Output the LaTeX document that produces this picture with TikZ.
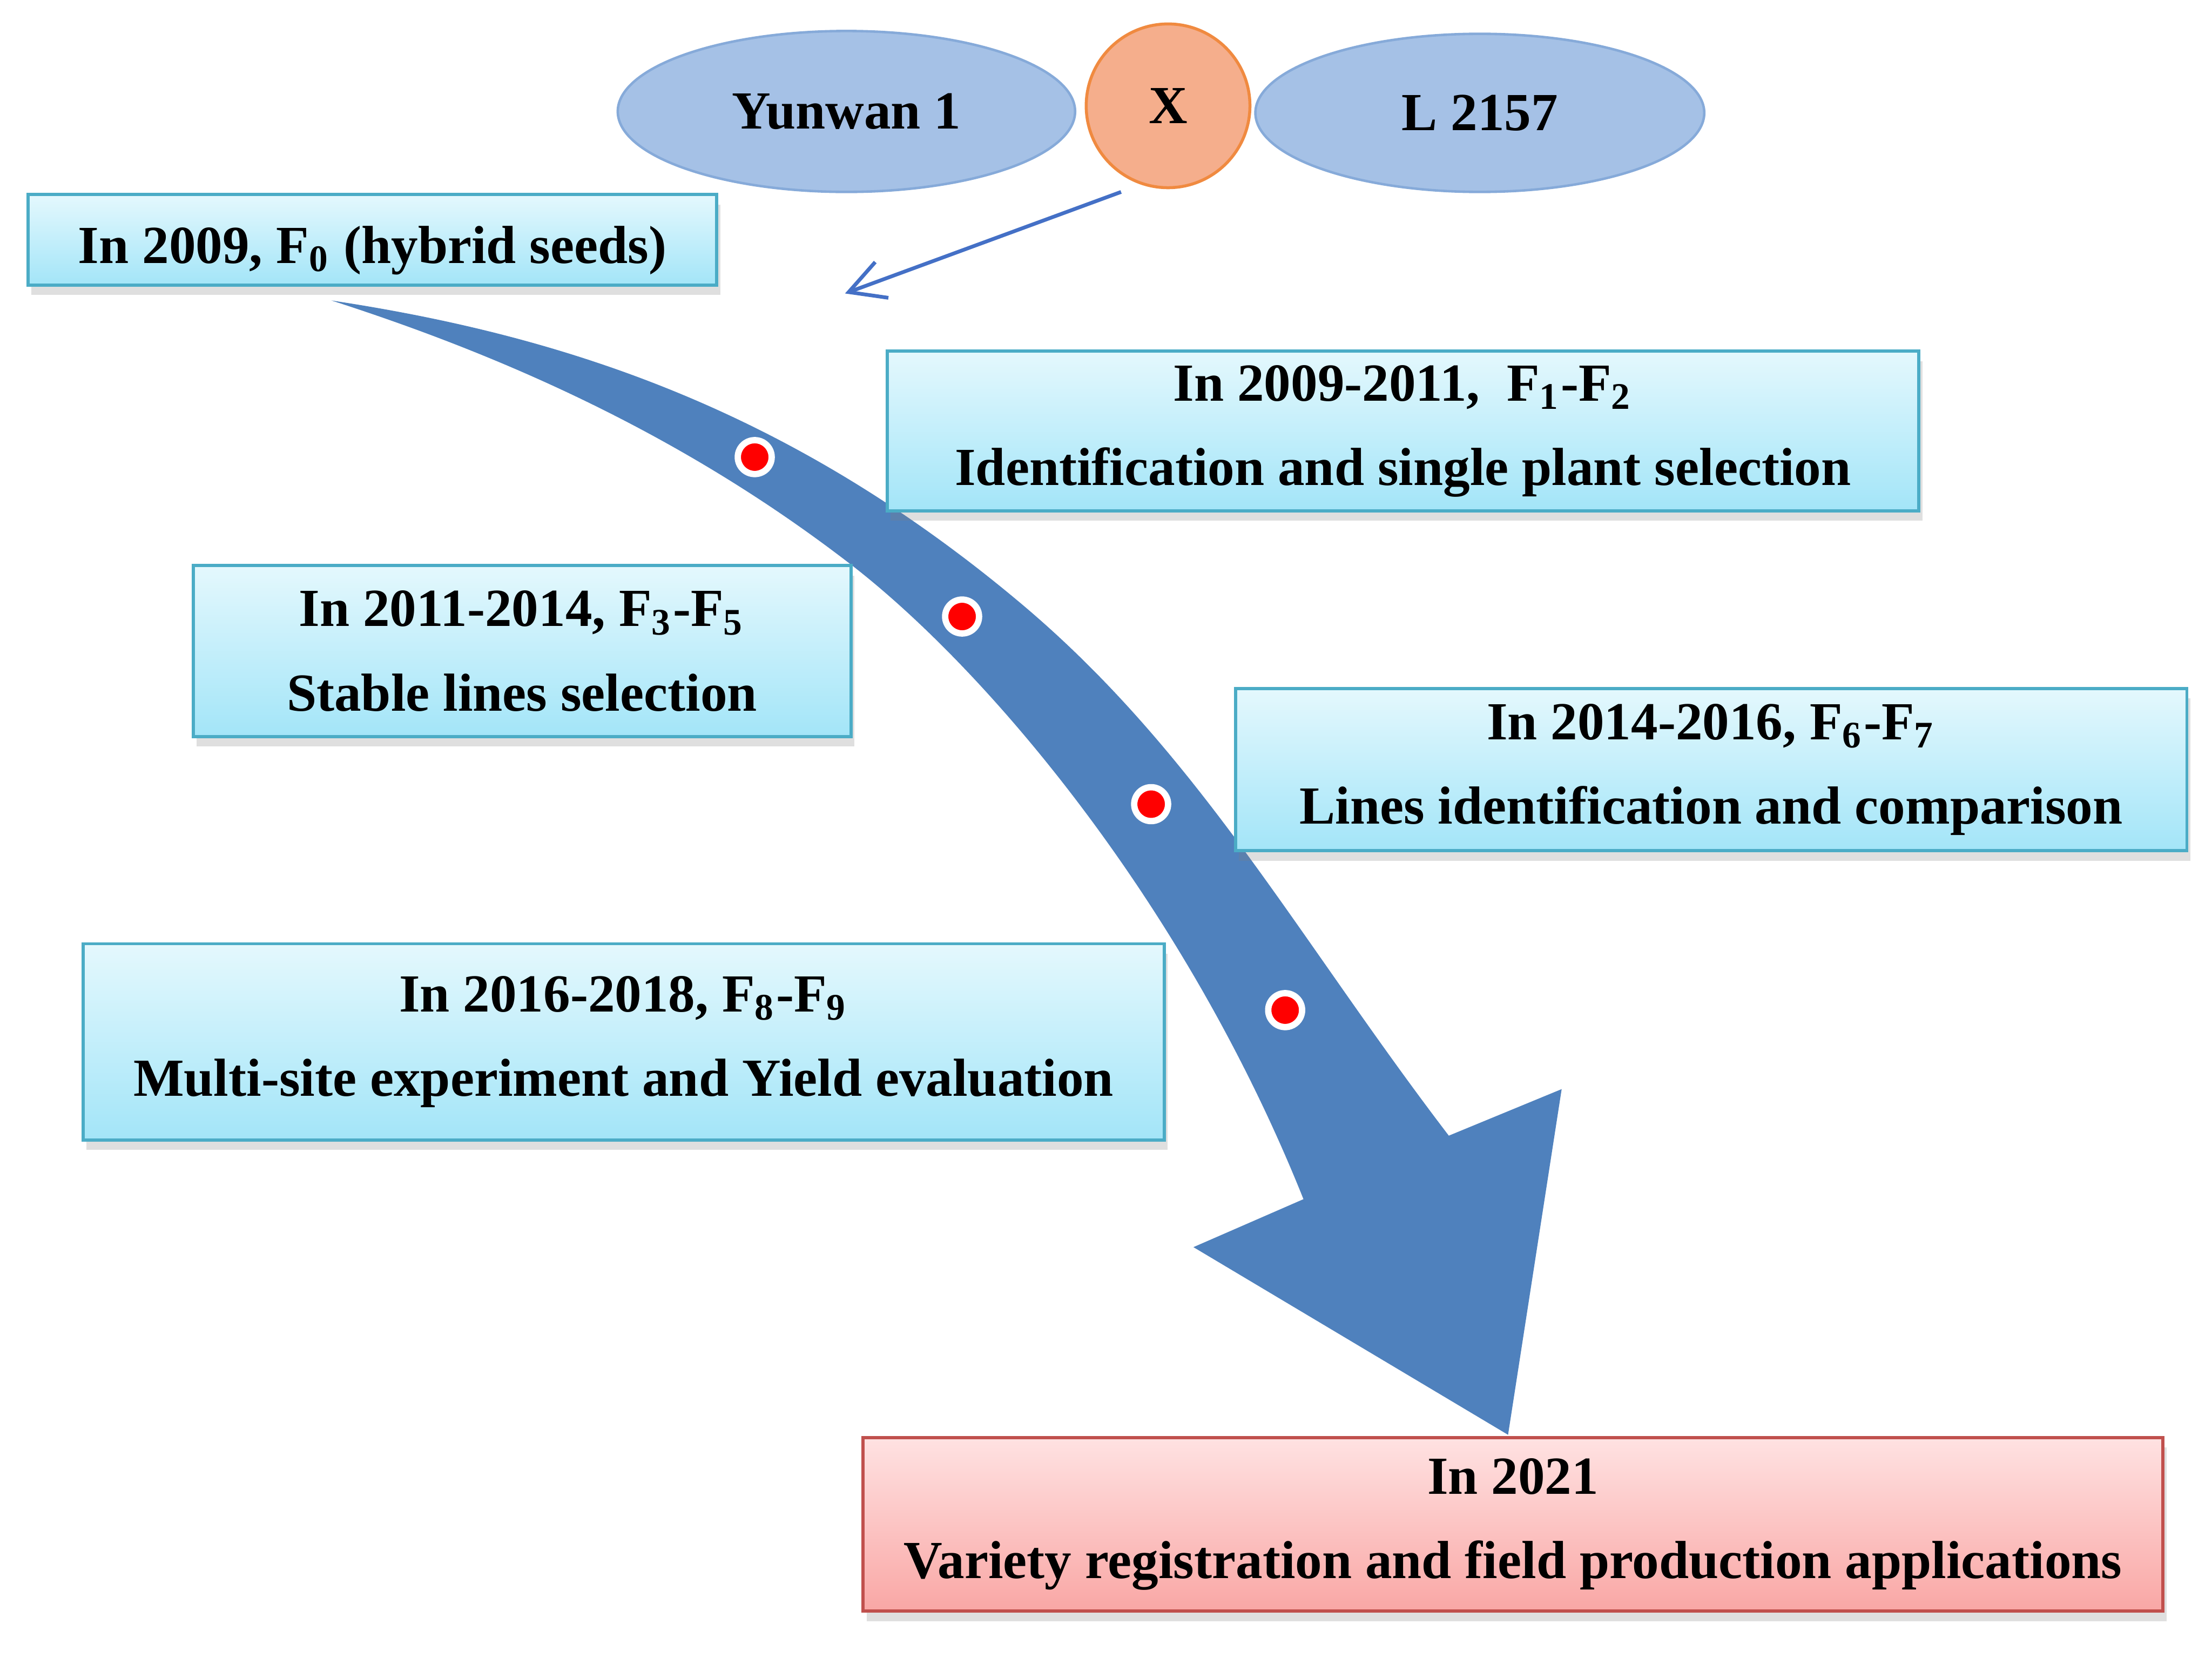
\documentclass[tikz,border=0pt]{standalone}
\usepackage{fontspec}
\setmainfont{Liberation Serif}
\usetikzlibrary{shapes.geometric,shadows,arrows.meta}
\definecolor{ellfill}{HTML}{A5C1E6}
\definecolor{elldraw}{HTML}{86AAD9}
\definecolor{xfill}{HTML}{F5AE8C}
\definecolor{xdraw}{HTML}{F08A40}
\definecolor{boxtop}{HTML}{E4F8FD}
\definecolor{boxbot}{HTML}{A3E5F8}
\definecolor{boxline}{HTML}{4BACC6}
\definecolor{pinktop}{HTML}{FFE2E2}
\definecolor{pinkbot}{HTML}{F9A7A5}
\definecolor{pinkline}{HTML}{C0504D}
\definecolor{bigarrow}{HTML}{4F81BD}
\definecolor{thinarrow}{HTML}{4470C6}
\begin{document}
\begin{tikzpicture}[x=0.01cm,y=-0.01cm,
  txt/.style={font=\fontsize{10.8pt}{17pt}\selectfont\bfseries, align=center, text=black},
  parentell/.style={ellipse, draw=elldraw, line width=0.5pt, fill=ellfill, inner sep=0pt, txt},
  stagebox/.style={rectangle, draw=boxline, line width=0.65pt, top color=boxtop, bottom color=boxbot, inner sep=0pt, txt,
     drop shadow={shadow xshift=0.25mm, shadow yshift=-0.7mm, opacity=0.25}},
  finalbox/.style={stagebox, draw=pinkline, top color=pinktop, bottom color=pinkbot},
  reddot/.style={circle, fill=red, draw=white, line width=0.45mm, minimum size=2.4mm, inner sep=0pt}
]
\useasboundingbox (0,0) rectangle (1568,1175);
\fill[white] (0,0) rectangle (1568,1175);

% parents
\node[parentell, minimum width=32.4mm, minimum height=11.4mm] (p1) at (600,79) {Yunwan 1};
\node[circle, draw=xdraw, fill=xfill, line width=0.6pt, minimum size=11.6mm, inner sep=0pt, txt] (X) at (828,75) {X};
\node[parentell, minimum width=31.8mm, minimum height=11.2mm] (p2) at (1049,80) {L 2157};

% big curved arrow
\fill[bigarrow] (235,213) .. controls (400,238) and (560,290) .. (724,428)
  .. controls (850,534) and (920,665) .. (1027,805)
  -- (1107,772) -- (1069,1017) -- (846,884) -- (924,850)
  .. controls (840,640) and (700,475) .. (603,400)
  .. controls (480,305) and (350,250) .. (235,213) -- cycle;

% dots
\node[reddot] (d1) at (535,324) {};
\node[reddot] (d2) at (682,437) {};
\node[reddot] (d3) at (816,570) {};
\node[reddot] (d4) at (911,716) {};

% stage boxes
\node[stagebox, minimum width=48.8mm, minimum height=6.4mm] (s0) at (264,170)
  {\raisebox{-1.65mm}[0pt][0pt]{In 2009, F\textsubscript{0} (hybrid seeds)}};
\node[stagebox, minimum width=73.1mm, minimum height=11.3mm] (s1) at (994.5,305.5)
  {In 2009-2011,\ \ F\textsubscript{1}-F\textsubscript{2}\\Identification and single plant selection};
\node[stagebox, minimum width=46.6mm, minimum height=12.1mm] (s2) at (370,461.5)
  {In 2011-2014, F\textsubscript{3}-F\textsubscript{5}\\Stable lines selection};
\node[stagebox, minimum width=67.4mm, minimum height=11.5mm] (s3) at (1213,545.5)
  {In 2014-2016, F\textsubscript{6}-F\textsubscript{7}\\Lines identification and comparison};
\node[stagebox, minimum width=76.6mm, minimum height=13.9mm] (s4) at (442,738.5)
  {In 2016-2018, F\textsubscript{8}-F\textsubscript{9}\\Multi-site experiment and Yield evaluation};
\node[finalbox, minimum width=92.1mm, minimum height=12.3mm] (s5) at (1072.5,1080.5)
  {In 2021\\Variety registration and field production applications};

% thin arrow
\coordinate (f0tip) at (599,208);
\draw[thinarrow, line width=0.75pt, shorten <=1.5mm, -{Straight Barb[length=2.5mm,width=2.7mm]}] (X.251) -- (f0tip);
\end{tikzpicture}
\end{document}
